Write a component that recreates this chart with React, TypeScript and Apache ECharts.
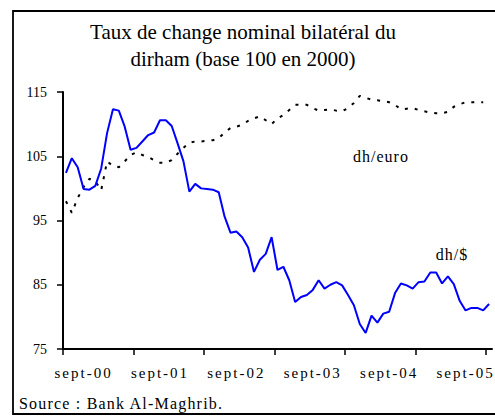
import React, { useEffect, useRef } from 'react';
import * as echarts from 'echarts';

// dh/$ index (monthly, base 100 en 2000)
const dollarValues = [
  102.4, 104.7, 103.3, 99.9, 99.8, 100.4, 103.1, 108.6, 112.3, 112.1,
  109.6, 106.0, 106.3, 107.3, 108.3, 108.7, 110.6, 110.6, 109.7, 107.0,
  104.2, 99.5, 100.7, 100.0, 99.9, 99.8, 99.4, 95.6, 93.1, 93.3,
  92.4, 90.8, 87.0, 88.9, 89.8, 92.4, 87.3, 87.8, 85.7, 82.3,
  83.1, 83.4, 84.2, 85.7, 84.4, 85.0, 85.4, 84.9, 83.4, 81.8,
  78.9, 77.5, 80.2, 79.1, 80.5, 80.8, 83.7, 85.2, 84.9, 84.4,
  85.4, 85.5, 86.9, 86.9, 85.2, 86.3, 85.1, 82.5, 81.0, 81.4,
  81.4, 81.0, 82.0,
];

// dh/euro index
const euroValues = [
  98.0, 96.2, 98.5, 100.2, 101.5, 101.1, 99.7, 104.2, 103.5, 103.3,
  104.2, 105.2, 105.6, 105.2, 104.9, 104.4, 104.0, 104.0, 104.4, 105.4,
  106.3, 107.1, 107.3, 107.3, 107.4, 107.5, 107.8, 108.7, 109.4, 109.6,
  109.9, 110.5, 110.9, 111.2, 110.6, 110.0, 110.9, 111.4, 112.2, 113.0,
  113.0, 113.0, 112.5, 112.1, 112.2, 112.3, 112.1, 112.0, 112.5, 113.3,
  114.4, 114.1, 113.8, 113.7, 113.6, 113.4, 113.0, 112.3, 112.4, 112.5,
  112.2, 112.0, 111.8, 111.7, 111.7, 111.9, 112.7, 113.1, 113.4, 113.4,
  113.4, 113.4,
];

const tickLabels = ['sept-00', 'sept-01', 'sept-02', 'sept-03', 'sept-04', 'sept-05'];
const labelCategory = [3, 16, 29, 42, 55, 68];
const tickCategory = [0, 12, 24, 36, 48, 60, 72];
const yTicks = [75, 85, 95, 105, 115];

const titleLines = ['Taux de change nominal bilatéral du', 'dirham (base 100 en 2000)'];
const seriesNames = ['dh/euro', 'dh/$'];
const sourceText = 'Source : Bank Al-Maghrib.';

const SERIF = "'Liberation Serif', 'Times New Roman', serif";

export default function App() {
  const ref = useRef<HTMLDivElement>(null);

  useEffect(() => {
    if (!ref.current) return;
    const el = ref.current;
    const chart = echarts.init(el, undefined, { renderer: 'svg' });
    const n = dollarValues.length;
    const labelValues = labelCategory.map((i) => i + 0.5);

    const applySpacing = () => {
      try {
        el.querySelectorAll('text').forEach((t) => {
          const s = t.textContent || '';
          if (tickLabels.includes(s)) t.setAttribute('letter-spacing', '2');
          else if (s === sourceText) t.setAttribute('letter-spacing', '1.2');
          else if (seriesNames.includes(s)) t.setAttribute('letter-spacing', '1');
        });
      } catch (e) {
        /* ignore */
      }
    };
    chart.on('finished', applySpacing);

    chart.setOption({
      animation: false,
      backgroundColor: '#fff',
      grid: { left: 63, right: 3, top: 92, bottom: 68, containLabel: false },
      xAxis: {
        type: 'value',
        min: 0,
        max: n,
        axisLine: { show: true, onZero: false, lineStyle: { color: '#000', width: 2 } },
        axisTick: {
          show: true,
          customValues: tickCategory,
          length: 6,
          lineStyle: { color: '#000', width: 1.5 },
        },
        axisLabel: {
          show: true,
          customValues: labelValues,
          formatter: (v: number) => {
            const k = labelValues.findIndex((x) => Math.abs(x - v) < 0.01);
            return k >= 0 ? tickLabels[k] : '';
          },
          color: '#000',
          fontFamily: SERIF,
          fontSize: 15,
          margin: 16,
        },
        splitLine: { show: false },
      },
      yAxis: {
        type: 'value',
        min: yTicks[0],
        max: yTicks[yTicks.length - 1],
        interval: 10,
        axisLine: { show: true, lineStyle: { color: '#000', width: 2 } },
        axisTick: { show: true, length: 6, lineStyle: { color: '#000', width: 1.5 } },
        axisLabel: { color: '#000', fontFamily: SERIF, fontSize: 14, margin: 16 },
        splitLine: { show: false },
      },
      series: [
        {
          name: seriesNames[0],
          type: 'line',
          data: euroValues.map((v, i) => [i + 0.5, v]),
          symbol: 'none',
          lineStyle: { color: '#000', width: 2, type: [3, 7], cap: 'butt' },
          z: 2,
        },
        {
          name: seriesNames[1],
          type: 'line',
          data: dollarValues.map((v, i) => [i + 0.5, v]),
          symbol: 'none',
          lineStyle: { color: '#0000ff', width: 2 },
          z: 3,
        },
      ],
      graphic: [
        {
          type: 'rect',
          shape: { x: 13, y: 11, width: 500, height: 403 },
          style: { fill: 'none', stroke: '#000', lineWidth: 1.8 },
          silent: true,
        },
        {
          type: 'text',
          x: 243,
          y: 32,
          style: {
            text: titleLines[0],
            fontFamily: SERIF,
            fontSize: 21,
            fill: '#000',
            textAlign: 'center',
            textVerticalAlign: 'middle',
          },
        },
        {
          type: 'text',
          x: 243,
          y: 58.5,
          style: {
            text: titleLines[1],
            fontFamily: SERIF,
            fontSize: 21,
            fill: '#000',
            textAlign: 'center',
            textVerticalAlign: 'middle',
          },
        },
        {
          type: 'text',
          x: 381,
          y: 156,
          style: {
            text: seriesNames[0],
            fontFamily: SERIF,
            fontSize: 16,
            fill: '#000',
            textAlign: 'center',
            textVerticalAlign: 'middle',
          },
        },
        {
          type: 'text',
          x: 452,
          y: 254,
          style: {
            text: seriesNames[1],
            fontFamily: SERIF,
            fontSize: 16,
            fill: '#000',
            textAlign: 'center',
            textVerticalAlign: 'middle',
          },
        },
        {
          type: 'text',
          x: 19,
          y: 403,
          style: {
            text: sourceText,
            fontFamily: SERIF,
            fontSize: 16,
            fill: '#000',
            textAlign: 'left',
            textVerticalAlign: 'middle',
          },
        },
      ],
    });

    applySpacing();
    const raf = requestAnimationFrame(applySpacing);

    return () => {
      cancelAnimationFrame(raf);
      chart.dispose();
    };
  }, []);

  return (
    <div
      ref={ref}
      style={{ position: 'absolute', left: 0, top: 0, width: 495, height: 417 }}
    />
  );
}
